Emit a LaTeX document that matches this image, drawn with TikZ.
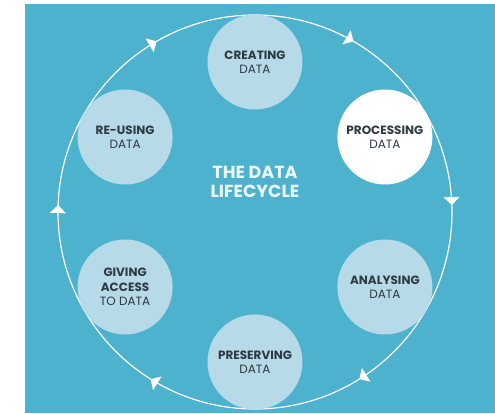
\documentclass[tikz,border=0pt]{standalone}
\usepackage{fontspec}
\setmainfont{Poppins}
\usetikzlibrary{arrows.meta}
\usetikzlibrary{decorations.markings}
\definecolor{bgblue}{RGB}{77,178,206}
\definecolor{pale}{RGB}{182,218,231}
\definecolor{ink}{RGB}{46,58,66}
\definecolor{titlewhite}{RGB}{236,248,252}

\begin{document}
\begin{tikzpicture}[x=1pt,y=1pt,
S/.style={circle, fill=pale, minimum size=95pt, inner sep=0pt, align=center, text=ink, font=\fontsize{12}{14.5}\selectfont},
W/.style={S, fill=white},
cyc/.tip={Triangle[width=16pt,length=8pt]},
lC/.style={white, line width=1.2pt, postaction={decorate},
 decoration={markings,
  mark=at position 0.0833 with {\arrow{cyc}},
  mark=at position 0.2444 with {\arrow{cyc}},
  mark=at position 0.4111 with {\arrow{cyc}},
  mark=at position 0.5889 with {\arrow{cyc}},
  mark=at position 0.7556 with {\arrow{cyc}},
  mark=at position 0.9167 with {\arrow{cyc}}}}]
%
\useasboundingbox (-255,-202) rectangle (240,212);
\fill[bgblue] (-230,-201) rectangle (240,208);

\coordinate (Top) at (90:197pt);
\draw[lC] (Top) arc[start angle=90, end angle=-270, radius=197pt];

\node[S] (Create)  at (90:150pt)  {\textbf{CREATING}\\DATA};
\node[W] (Process) at (30:150pt)  {\textbf{PROCESSING}\\DATA};
\node[S] (Analyse) at (-30:150pt) {\textbf{ANALYSING}\\DATA};
\node[S] (Keep)    at (-90:150pt) {\textbf{PRESERVING}\\DATA};
\node[S] (Give)    at (-150:150pt) {\textbf{GIVING}\\\textbf{ACCESS}\\TO DATA};
\node[S] (Reuse)   at (150:150pt) {\textbf{RE-USING}\\DATA};

\node[align=center, text=titlewhite, font=\bfseries\fontsize{17.5}{19.5}\selectfont] (Title) at (0,30) {THE DATA\\LIFECYCLE};

\end{tikzpicture}
\end{document}
